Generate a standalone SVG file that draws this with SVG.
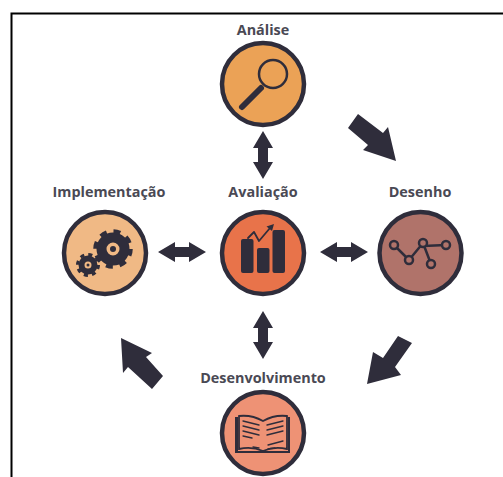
<svg xmlns="http://www.w3.org/2000/svg" width="503" height="477" viewBox="0 0 503 477">
<defs>
<style>
.c{stroke:#2f2d3b;stroke-width:4.500}
.t{font-family:"Open Sans",sans-serif;font-weight:700;font-size:14.400px;fill:#4a4954;text-anchor:middle}
.a{fill:#2f2d3b}
.l{fill:none;stroke:#2f2d3b;stroke-linecap:round;stroke-linejoin:round}
</style>
<path id="dbl" class="a" d="M-24 0L-7-10V-5H7V-10L24 0L7 10V5H-7V10Z"/>
</defs>
<path d="M11.500 477V13.500H503" fill="none" stroke="#000" stroke-width="2"/>
<g id="connectors">
<use href="#dbl" transform="translate(263,155) rotate(90)"/>
<use href="#dbl" transform="translate(182,252)"/>
<use href="#dbl" transform="translate(344,252)"/>
<use href="#dbl" transform="translate(263,335) rotate(90)"/>
<path class="a" d="M358 114L348 128L368 145L363 150L396 161L388 127L383 133Z"/>
<path class="a" d="M398 336L412 343L395 367L401 375L367 384L373 352L383 358Z"/>
<path class="a" d="M121 338L152 353L146 357L163 376L152 389L128 367L123 373Z"/>
</g>
<g id="analise">
<text class="t" x="263" y="35">Análise</text>
<circle class="c" cx="263" cy="84" r="41" fill="#eba256"/>
<circle cx="273" cy="74" r="14" fill="none" stroke="#2f2d3b" stroke-width="2.500"/>
<path class="l" d="M261 88L242 107" stroke-width="6"/>
</g>
<g id="implementacao">
<text class="t" x="109" y="197">Implementação</text>
<circle class="c" cx="105" cy="253" r="41" fill="#f0b985"/>
<circle cx="113" cy="249" r="11.500" fill="none" stroke="#2f2d3b" stroke-width="10"/>
<circle cx="113" cy="249" r="17.500" fill="none" stroke="#2f2d3b" stroke-width="4.500" stroke-dasharray="6.870 6.870"/>
<circle cx="113" cy="249" r="3" class="a"/>
<circle cx="88" cy="265" r="6.500" fill="none" stroke="#2f2d3b" stroke-width="6"/>
<circle cx="88" cy="265" r="10.500" fill="none" stroke="#2f2d3b" stroke-width="3" stroke-dasharray="4.120 4.120"/>
<circle cx="88" cy="265" r="1.500" class="a"/>
</g>
<g id="avaliacao">
<text class="t" x="263" y="197">Avaliação</text>
<circle class="c" cx="263" cy="253" r="41" fill="#e8734a"/>
<rect class="a" x="241" y="239" width="12.500" height="34" rx="2"/>
<rect class="a" x="257" y="248" width="12.500" height="25" rx="2"/>
<rect class="a" x="272.500" y="230" width="12.500" height="43" rx="2"/>
<path class="l" d="M248 238L254 232L259 241L270 228" stroke-width="1.800"/>
<path class="a" d="M274 224L272 231L266.500 226.500Z"/>
</g>
<g id="desenho">
<text class="t" x="420" y="197">Desenho</text>
<circle class="c" cx="420.500" cy="253" r="41" fill="#b0736a"/>
<path class="l" d="M394 245L409 260L423 243L431 264M423 246L446 245" stroke-width="2.500"/>
<g fill="#b0736a" stroke="#2f2d3b" stroke-width="2.500">
<circle cx="394" cy="245" r="4"/><circle cx="409" cy="260" r="4"/><circle cx="423" cy="243" r="4"/><circle cx="431" cy="264" r="4"/><circle cx="446" cy="245" r="4"/>
</g>
</g>
<g id="desenvolvimento">
<text class="t" x="263" y="383">Desenvolvimento</text>
<circle class="c" cx="263" cy="433" r="41" fill="#ee9275"/>
<path d="M235 417H238V451H263H288V417H290V453H235Z" class="a"/>
<path d="M239 416C248 415 256 417 263 421C270 417 278 415 287 416V449C278 447 270 448 263 451C256 448 248 447 239 449Z" fill="#ee9275" stroke="#2f2d3b" stroke-width="1.800"/>
<path class="l" d="M243 421L259 425M243 426L259 430M243 431L259 435M243 436L252 438M267 425L283 421M267 430L283 426M267 435L283 431M253 447L259 448M268 445L283 441M268 449L275 448" stroke-width="1.300"/>
</g>
</svg>
